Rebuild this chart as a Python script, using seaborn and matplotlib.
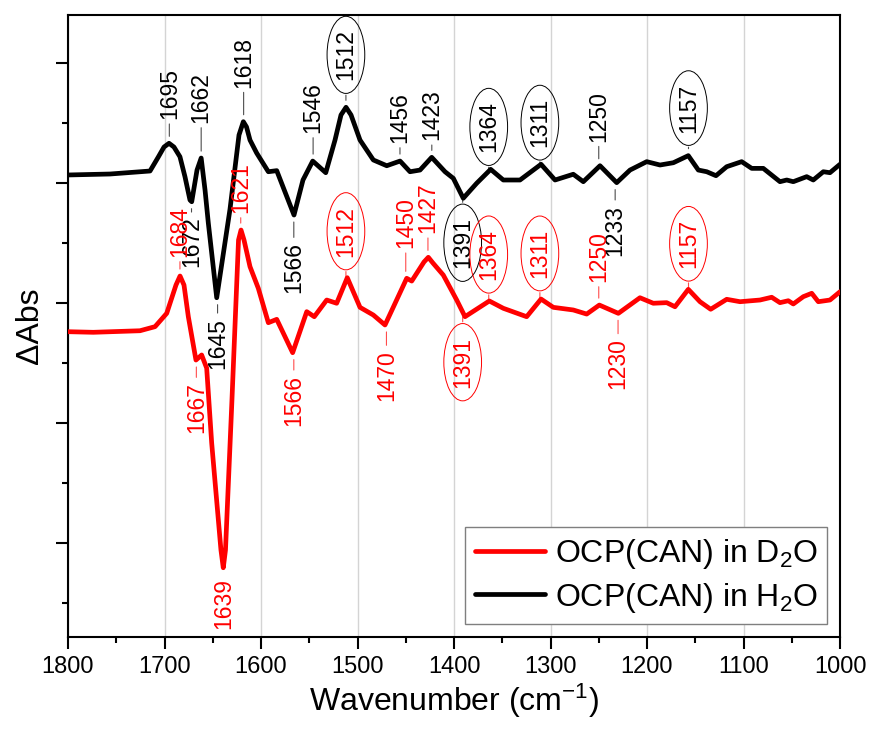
import numpy as np
import pandas as pd
import matplotlib
matplotlib.use("Agg")
import matplotlib.pyplot as plt
import seaborn as sns
from matplotlib.ticker import MultipleLocator, NullFormatter
from matplotlib.lines import Line2D

# ---------------- data ----------------
h2o_wn = [1800, 1756.5, 1715, 1706.4, 1700.5, 1695.3, 1690.2, 1684, 1678.8, 1673.6,
          1671.8, 1666.3, 1662, 1658.0, 1654.6, 1645.9, 1632.1, 1622.8, 1618.3,
          1615.0, 1611.4, 1604.5, 1592.4, 1583.7, 1575.1, 1565.8,
          1556.5, 1546.4, 1532.9, 1523.3, 1517.1, 1511.9, 1506.7, 1497.4, 1483.6,
          1469.7, 1455.9, 1445.6, 1435.2, 1423.1, 1409.3, 1400.7, 1390.4, 1376.5,
          1362.0, 1348.9, 1331.6, 1309.8, 1295.3, 1276.4, 1266.0, 1248.7, 1231.4,
          1217.6, 1200.3, 1186.5, 1172.7, 1157.2, 1146.8, 1138.1, 1128.5, 1117.4,
          1101.9, 1091.5, 1079.5, 1062.2, 1055.2, 1048.4, 1034.5, 1027.7, 1017.3,
          1010.4, 1000]
h2o_abs = [3.067, 3.075, 3.100, 3.217, 3.300, 3.331, 3.300, 3.219, 3.053, 2.858,
           2.844, 3.108, 3.208, 2.942, 2.667, 2.044, 2.783, 3.400, 3.511,
           3.467, 3.358, 3.250, 3.094, 3.103, 2.925, 2.733,
           3.025, 3.183, 3.086, 3.358, 3.567, 3.631, 3.567, 3.358, 3.192,
           3.144, 3.183, 3.094, 3.108, 3.214, 3.094, 3.039, 2.873, 2.998,
           3.114, 3.025, 3.025, 3.156, 3.025, 3.073, 3.011, 3.144, 3.003,
           3.108, 3.178, 3.150, 3.169, 3.228, 3.108, 3.094, 3.061, 3.136,
           3.178, 3.122, 3.122, 3.011, 3.025, 3.011, 3.053, 3.025, 3.094,
           3.086, 3.156]

d2o_wn = [1800, 1773.8, 1725.4, 1709.8, 1697.7, 1688.1, 1683.9, 1679.8, 1675.3,
          1667.4, 1661.5, 1656.3, 1651.1, 1641.5, 1639.1, 1636.8, 1630.1, 1623.3,
          1620.7, 1617.6, 1611.4, 1602.8, 1592.4, 1583.7,
          1567.2, 1552.6, 1544.8, 1531.9, 1521.6, 1510.6, 1497.4, 1483.6, 1471.5,
          1449.0, 1443.8, 1431.1, 1426.6, 1421.8, 1411.1, 1397.2, 1388.6, 1363.4,
          1348.9, 1324.7, 1309.8, 1297.1, 1276.4, 1262.5, 1249.4, 1229.7, 1207.3,
          1193.5, 1179.6, 1171.0, 1157.2, 1145.1, 1134.0, 1117.4, 1103.6, 1082.9,
          1070.8, 1062.2, 1053.6, 1048.4, 1038.0, 1029.3, 1022.5, 1010.4, 1000]
d2o_abs = [1.761, 1.756, 1.769, 1.803, 1.914, 2.150, 2.225, 2.150, 1.886,
           1.525, 1.567, 1.458, 0.833, -0.058, -0.206, -0.058, 1.192, 2.525,
           2.608, 2.525, 2.303, 2.123, 1.836, 1.864,
           1.586, 1.928, 1.886, 2.025, 1.998, 2.211, 1.964, 1.900, 1.817,
           2.206, 2.183, 2.342, 2.381, 2.333, 2.233, 2.025, 1.886, 2.017,
           1.956, 1.886, 2.033, 1.964, 1.942, 1.908, 1.983, 1.914, 2.044,
           1.998, 2.003, 1.969, 2.114, 2.011, 1.948, 2.031, 2.011, 2.025,
           2.048, 2.003, 2.019, 1.992, 2.053, 2.081, 2.011, 2.025, 2.094]

series_names = ["OCP(CAN) in D$_\\mathregular{2}$O", "OCP(CAN) in H$_\\mathregular{2}$O"]
series_colors = ["#ff0000", "#000000"]

# peak / dip labels (wavenumber), label gaps in pixels (layout)
h2o_peak_labels = [1695, 1662, 1618, 1546, 1512, 1456, 1423, 1364, 1311, 1250, 1157]
h2o_peak_gaps = [24, 35, 34, 28, 27, 18, 17, 17, 17, 24, 23]
h2o_dip_labels = [1672, 1645, 1566, 1391, 1233]
h2o_dip_gaps = [15, 20, 27, 19, 22]
h2o_circled = [1512, 1364, 1311, 1157, 1391]

d2o_peak_labels = [1684, 1621, 1512, 1450, 1427, 1364, 1311, 1250, 1157]
d2o_peak_gaps = [19, 17, 21, 30, 24, 21, 21, 23, 21]
d2o_dip_labels = [1667, 1639, 1566, 1470, 1391, 1230]
d2o_dip_gaps = [22, 10, 22, 25, 20, 25]
d2o_circled = [1512, 1364, 1311, 1157, 1391]

x_ticks = [1800, 1700, 1600, 1500, 1400, 1300, 1200, 1100, 1000]

# ---------------- style ----------------
sns.set_theme(style="white")
plt.rcParams["font.family"] = ["Liberation Sans", "DejaVu Sans"]
plt.rcParams["mathtext.fontset"] = "custom"
plt.rcParams["mathtext.rm"] = "Liberation Sans"
plt.rcParams["mathtext.it"] = "Liberation Sans:italic"
plt.rcParams["mathtext.bf"] = "Liberation Sans:bold"
for key in ["text.color", "axes.labelcolor", "xtick.color", "ytick.color"]:
    plt.rcParams[key] = "black"

df = pd.concat([
    pd.DataFrame({"wn": d2o_wn, "dabs": d2o_abs, "sample": series_names[0]}),
    pd.DataFrame({"wn": h2o_wn, "dabs": h2o_abs, "sample": series_names[1]}),
], ignore_index=True)

fig = plt.figure(figsize=(8.71, 7.29), dpi=100)
ax = fig.add_axes([68 / 871, 1 - 637 / 729, 772 / 871, 622 / 729])

sns.lineplot(data=df, x="wn", y="dabs", hue="sample", hue_order=series_names,
             palette=dict(zip(series_names, series_colors)), estimator=None,
             linewidth=3.4, legend=False, ax=ax, zorder=3)
for ln in ax.get_lines():
    ln.set_solid_joinstyle("round")
    ln.set_solid_capstyle("round")

ax.set_xlim(1800, 1000)
ax.set_ylim(-0.783, 4.4)
ax.set_xticks(x_ticks)
ax.set_xticklabels([str(t) for t in x_ticks])
ax.xaxis.set_minor_locator(MultipleLocator(50))
ax.yaxis.set_major_locator(MultipleLocator(1))
ax.yaxis.set_minor_locator(MultipleLocator(0.5))
ax.yaxis.set_major_formatter(NullFormatter())
ax.tick_params(axis="both", which="major", direction="out", length=8.6, width=1.5,
               color="black", labelcolor="black", labelsize=17, pad=5,
               bottom=True, left=True)
ax.tick_params(axis="both", which="minor", direction="out", length=4.3, width=1.5,
               color="black", bottom=True, left=True)
ax.tick_params(axis="y", which="both", labelleft=False)
for sp in ax.spines.values():
    sp.set_visible(True)
    sp.set_color("black")
    sp.set_linewidth(1.5)
ax.grid(axis="x", which="major", color="#d4d4d4", linewidth=1.0)
ax.grid(axis="y", visible=False)
ax.set_axisbelow(True)

ax.set_xlabel("Wavenumber (cm$^{\\mathregular{-1}}$)", fontsize=23, labelpad=3,
              color="black")
ax.set_ylabel("\u0394Abs", fontsize=23, labelpad=8, color="black")


def anchor_value(wns, vals, w, peak):
    wns = np.asarray(wns, float)
    vals = np.asarray(vals, float)
    order = np.argsort(wns)
    base = np.interp(w, wns[order], vals[order])
    near = vals[np.abs(wns - w) <= 5]
    if near.size:
        base = max(base, near.max()) if peak else min(base, near.min())
    return base


def add_labels(wns, vals, labels, gaps, circled, color, peak):
    sign = 1 if peak else -1
    for w, g in zip(labels, gaps):
        yv = anchor_value(wns, vals, w, peak)
        kw = {}
        if w in circled:
            kw["bbox"] = dict(boxstyle="ellipse,pad=0.08", fc="none", ec=color, lw=0.7)
        arrow = None
        if g >= 14:
            arrow = dict(arrowstyle="-", color=color, lw=0.8, alpha=0.7,
                         shrinkA=1, shrinkB=5)
        ax.annotate(str(w), xy=(w, yv), xytext=(0, sign * g * 0.72),
                    textcoords="offset points", rotation=90, ha="center",
                    va="bottom" if peak else "top", fontsize=16.5, color=color,
                    arrowprops=arrow, zorder=4, **kw)


add_labels(h2o_wn, h2o_abs, h2o_peak_labels, h2o_peak_gaps, h2o_circled, "black", True)
add_labels(h2o_wn, h2o_abs, h2o_dip_labels, h2o_dip_gaps, h2o_circled, "black", False)
add_labels(d2o_wn, d2o_abs, d2o_peak_labels, d2o_peak_gaps, d2o_circled, "#ff0000", True)
add_labels(d2o_wn, d2o_abs, d2o_dip_labels, d2o_dip_gaps, d2o_circled, "#ff0000", False)

handles = [Line2D([], [], color=c, lw=3.4) for c in series_colors]
leg = ax.legend(handles, series_names, loc="lower right", fontsize=23,
                frameon=True, fancybox=False, framealpha=1, edgecolor="#7f7f7f",
                handlelength=2.2, handletextpad=0.3, labelspacing=0.3,
                borderpad=0.3, borderaxespad=0.4)
leg.get_frame().set_linewidth(1.0)
for t in leg.get_texts():
    t.set_color("black")

fig.savefig("out.png", dpi=100)
